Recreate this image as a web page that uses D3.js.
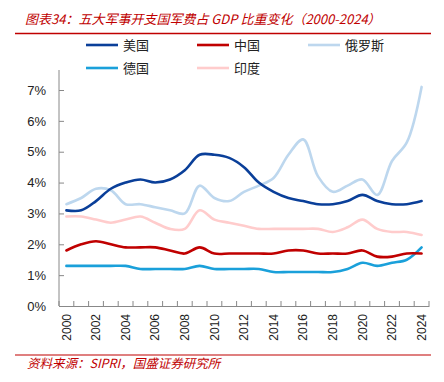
<!DOCTYPE html>
<html><head><meta charset="utf-8">
<script src="https://cdn.jsdelivr.net/npm/d3@7/dist/d3.min.js"></script>
<style>body{margin:0;background:#fff}svg{display:block}</style>
</head><body><svg id="c" width="444" height="382"></svg>
<script>
const years = d3.range(2000, 2025).map(String);
const xTickLabels = ["2000","2002","2004","2006","2008","2010","2012","2014","2016","2018","2020","2022","2024"];
const usa     = [3.1,3.1,3.4,3.8,4.0,4.1,4.0,4.1,4.4,4.9,4.9,4.8,4.5,4.0,3.7,3.5,3.4,3.3,3.3,3.4,3.6,3.4,3.3,3.3,3.4];
const china   = [1.8,2.0,2.1,2.0,1.9,1.9,1.9,1.8,1.7,1.9,1.7,1.7,1.7,1.7,1.7,1.8,1.8,1.7,1.7,1.7,1.8,1.6,1.6,1.7,1.7];
const russia  = [3.3,3.5,3.8,3.75,3.3,3.3,3.2,3.1,3.0,3.9,3.5,3.4,3.7,3.9,4.15,4.9,5.4,4.2,3.7,3.9,4.1,3.6,4.7,5.3,7.1];
const germany = [1.3,1.3,1.3,1.3,1.3,1.2,1.2,1.2,1.2,1.3,1.2,1.2,1.2,1.2,1.1,1.1,1.1,1.1,1.1,1.2,1.4,1.3,1.4,1.5,1.9];
const india   = [2.9,2.9,2.8,2.7,2.8,2.9,2.7,2.5,2.5,3.1,2.8,2.7,2.6,2.5,2.5,2.5,2.5,2.5,2.4,2.55,2.8,2.5,2.4,2.4,2.3];
const yTicks = [0,1,2,3,4,5,6,7];
const seriesNames = ["美国","中国","俄罗斯","德国","印度"];
const seriesColors = ["#0A3F99","#C00000","#BDD7EE","#1AA0DA","#FFCCCC"];
const seriesData = [usa, china, russia, germany, india];
const title = "图表34：五大军事开支国军费占 GDP 比重变化（2000-2024）";
const source = "资料来源：SIPRI，国盛证券研究所";

const svg = d3.select("#c");
const font = "'Liberation Sans', Arial, sans-serif";
const cjk = "'Noto Sans CJK SC', sans-serif";

// title
svg.append("text").attr("x", 25).attr("y", 24).text(title)
  .attr("font-family", cjk).attr("font-size", 13).attr("font-style","italic")
  .attr("fill", "#C00000");
svg.append("line").attr("x1",15).attr("x2",431).attr("y1",33.5).attr("y2",33.5)
  .attr("stroke","#C00000").attr("stroke-width",1.5);
svg.append("line").attr("x1",15).attr("x2",431).attr("y1",355).attr("y2",355)
  .attr("stroke","#C00000").attr("stroke-width",1.2);
svg.append("text").attr("x", 27).attr("y", 368).text(source)
  .attr("font-family", cjk).attr("font-size", 12.5).attr("font-style","italic")
  .attr("fill", "#C00000");

const x = d3.scaleBand().domain(years).range([59, 429]);
const y = d3.scaleLinear().domain([0,7]).range([306, 90]);

// y axis
const ya = svg.append("g").attr("transform","translate(59,0)")
  .call(d3.axisLeft(y).tickValues(yTicks).tickFormat(d => d + "%").tickSize(-5).tickPadding(13));
ya.select(".domain").attr("stroke","#888").attr("d","M0,306V70");
ya.selectAll(".tick line").attr("stroke","#888");
ya.selectAll("text").attr("font-family", font).attr("font-size", 13).attr("fill","#222");

// x axis
const xa = svg.append("g").attr("transform","translate(0,306)")
  .call(d3.axisBottom(x).tickValues(xTickLabels).tickSize(0).tickSizeOuter(0));
xa.select(".domain").attr("stroke","#888");
xa.selectAll(".tick text").attr("transform","rotate(-90)")
  .attr("x", -8).attr("y", 0).attr("dy","0.35em").attr("text-anchor","end")
  .attr("font-family", font).attr("font-size", 12).attr("fill","#222");
// band boundary ticks
const bounds = years.map(d => x(d)).concat([x.range()[1]]);
svg.append("g").selectAll("line").data(bounds).join("line")
  .attr("x1", d => d).attr("x2", d => d).attr("y1", 306).attr("y2", 301)
  .attr("stroke","#888");

// lines
const line = d3.line().x((d,i) => x(years[i]) + x.bandwidth()/2).y(d => y(d))
  .curve(d3.curveCatmullRom.alpha(0.5));
const order = [4,2,3,1,0];
order.forEach(k => {
  svg.append("path").attr("d", line(seriesData[k])).attr("fill","none")
    .attr("stroke", seriesColors[k]).attr("stroke-width", 2.6)
    .attr("stroke-linejoin","round").attr("stroke-linecap","round");
});

// legend
const legPos = [[86,45],[197,45],[308,45],[86,68],[197,68]];
seriesNames.forEach((n,i) => {
  const [lx,ly] = legPos[i];
  svg.append("line").attr("x1",lx).attr("x2",lx+32).attr("y1",ly).attr("y2",ly)
    .attr("stroke",seriesColors[i]).attr("stroke-width",2.6);
  svg.append("text").attr("x",lx+37).attr("y",ly).attr("dy","0.35em").text(n)
    .attr("font-family", cjk).attr("font-size",13).attr("fill","#222");
});
</script></body></html>
